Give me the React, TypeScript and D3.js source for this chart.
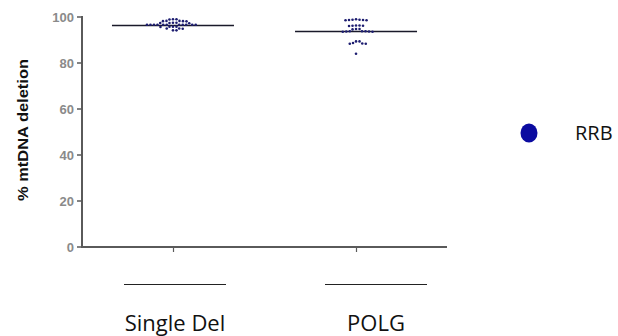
import React from "react";
import * as d3 from "d3";

const categories = ["Single Del", "POLG"];
const singleDel = [
  99.0, 99.0, 98.9,
  98.3, 98.3, 98.2, 98.2, 98.1,
  97.5, 97.5, 97.4, 97.4, 97.3,
  96.6, 96.6, 96.6, 96.6, 96.6, 96.6, 96.6, 96.6, 96.6, 96.6, 96.6,
  95.8, 95.8, 95.8, 95.7,
  95.0, 95.0, 94.9,
  94.2, 94.2,
];
const polg = [
  99.0, 98.8, 98.8, 98.7, 98.7, 98.6, 98.6,
  96.3, 96.3, 96.2, 96.2, 96.1,
  94.8, 94.8, 94.6,
  93.8, 93.8, 93.8, 93.7, 93.7, 93.6, 93.6,
  89.4, 89.4, 88.7, 88.5, 88.4, 88.4,
  84.0,
];
const seriesValues = [singleDel, polg];
const means = [96.6, 93.7];
const yTicks = [0, 20, 40, 60, 80, 100];
const legendLabel = "RRB";
const yTitle = "% mtDNA deletion";

function beeswarm(values: number[], cx: number, y: (v: number) => number, D: number) {
  const placed: { x: number; y: number }[] = [];
  const sorted = [...values].sort((a, b) => b - a);
  const step = 0.25;
  for (const v of sorted) {
    const py = y(v);
    let found = cx;
    for (let k = 0; k < 400; k++) {
      const off = Math.ceil(k / 2) * step * (k % 2 === 1 ? 1 : -1);
      const px = cx + off;
      let ok = true;
      for (const p of placed) {
        const dx = p.x - px, dy = p.y - py;
        if (dx * dx + dy * dy < D * D) { ok = false; break; }
      }
      if (ok) { found = px; break; }
    }
    placed.push({ x: found, y: py });
  }
  return placed;
}

export default function App() {
  const W = 618, H = 336;
  const x0 = 82, x1 = 447, yBottom = 247, yTop = 17;
  const y = d3.scaleLinear().domain([0, 100]).range([yBottom, yTop]);
  const x = d3.scalePoint<string>().domain(categories).range([x0, x1]).padding(0.497);
  const labelX = d3.scalePoint<string>().domain(categories).range([175, 376]);
  const tickFont = "'Liberation Sans', Arial, sans-serif";
  const dotColor = "#1d1d70";

  return (
    <svg width={W} height={H} style={{ position: "absolute", left: 0, top: 0, background: "#fff" }}>
      {/* y axis */}
      <line x1={x0} x2={x0} y1={y(100) - 1} y2={yBottom + 1} stroke="#5a5a5a" strokeWidth={2} />
      {yTicks.map((t) => (
        <g key={t}>
          <line x1={x0 - 5} x2={x0} y1={y(t)} y2={y(t)} stroke="#5a5a5a" strokeWidth={1.5} />
          <text x={x0 - 8} y={y(t)} dy="0.36em" textAnchor="end" fontFamily={tickFont} fontWeight="bold" fontSize={13} fill="#8a8a8a">{t}</text>
        </g>
      ))}
      {/* x axis */}
      <line x1={x0} x2={x1} y1={yBottom} y2={yBottom} stroke="#5a5a5a" strokeWidth={2} />
      {categories.map((c) => (
        <line key={c} x1={Math.round(x(c)!) + 0.5} x2={Math.round(x(c)!) + 0.5} y1={yBottom} y2={yBottom + 5} stroke="#5a5a5a" strokeWidth={1.2} />
      ))}
      {/* y title */}
      <text transform={`translate(28,130) rotate(-90)`} textAnchor="middle" fontFamily={tickFont} fontWeight="bold" fontSize={15} textLength={142} lengthAdjust="spacingAndGlyphs" fill="#111">{yTitle}</text>
      {/* mean lines */}
      {categories.map((c, i) => (
        <line key={c} x1={x(c)! - 61} x2={x(c)! + 61} y1={Math.round(y(means[i])) + 0.5} y2={Math.round(y(means[i])) + 0.5} stroke="#1a1a2a" strokeWidth={1.3} />
      ))}
      {/* dots */}
      {categories.map((c, i) =>
        beeswarm(seriesValues[i], x(c)!, y, 3.3).map((p, j) => (
          <circle key={c + j} cx={p.x} cy={p.y} r={1.3} fill={dotColor} />
        ))
      )}
      {/* category annotations */}
      {categories.map((c) => (
        <g key={c}>
          <line x1={labelX(c)! - 51} x2={labelX(c)! + 51} y1={284.5} y2={284.5} stroke="#222" strokeWidth={1} />
          <text x={labelX(c)!} y={331} textAnchor="middle" fontFamily="'Open Sans', sans-serif" fontSize={22} fill="#111">{c}</text>
        </g>
      ))}
      {/* legend */}
      <ellipse cx={529} cy={133} rx={8.5} ry={9.5} fill="#0b0ba0" />
      <text x={575} y={140} fontFamily="'Open Sans', sans-serif" fontSize={20} fill="#111">{legendLabel}</text>
    </svg>
  );
}
